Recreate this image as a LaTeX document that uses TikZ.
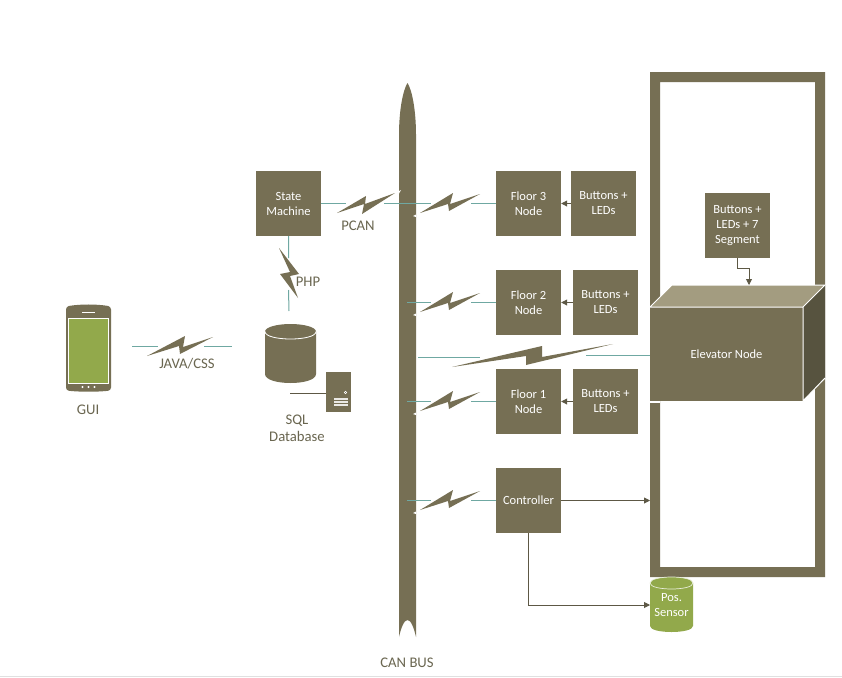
\documentclass[tikz,border=0pt]{standalone}
\usepackage{fontspec}
\setmainfont{Carlito}
\definecolor{olive}{HTML}{766F54}
\definecolor{olivel}{HTML}{A39C80}
\definecolor{olived}{HTML}{57533F}
\definecolor{arrowc}{HTML}{5D5845}
\definecolor{leaf}{HTML}{92A94B}
\definecolor{teal2}{HTML}{6FA8A2}
\definecolor{txt}{HTML}{6A6650}
\usetikzlibrary{arrows.meta}
\tikzset{
  boxn/.style={fill=olive,draw=none,text=white,minimum width=65pt,minimum height=65pt,align=center,inner sep=0pt,font=\fontsize{12.5pt}{15pt}\selectfont},
  lab/.style={text=txt,align=center,inner sep=0pt,font=\fontsize{14.7pt}{17.5pt}\selectfont},
  wire/.style={teal2,line width=1pt},
  flow/.style={arrowc,line width=0.9pt,-{Triangle[length=6pt,width=6pt]}},
  bolt/.style={fill=olive,draw=none}
}
\begin{document}
\begin{tikzpicture}[x=1pt,y=-1pt]
\useasboundingbox (0,0) rectangle (842,677);
\fill[white] (0,0) rectangle (842,677);
\draw[black!12,line width=0.8pt] (0,676) -- (842,676);
% shaft
\fill[olive,even odd rule] (650,72) rectangle (825,577) (660,82) rectangle (815,567);
% CAN bus
\fill[olive] (399,637) -- (399,135) .. controls (399,110) and (403,90) .. (407.5,83) .. controls (412,90) and (416,110) .. (416,135) -- (416,637) .. controls (414,628) and (411,620) .. (407.5,620) .. controls (404,620) and (401,628) .. (399,637) -- cycle;
% boxes
\node[boxn] (sm) at (288.5,203.5) {State\\Machine};
\node[boxn] (f3) at (528.5,203.5) {Floor 3\\Node};
\node[boxn] (b3) at (603.5,203.5) {Buttons +\\LEDs};
\node[boxn] (f2) at (528.5,302.5) {Floor 2\\Node};
\node[boxn] (b2) at (605.5,302.5) {Buttons +\\LEDs};
\node[boxn] (f1) at (528.5,401.5) {Floor 1\\Node};
\node[boxn] (b1) at (605.5,401.5) {Buttons +\\LEDs};
\node[boxn] (ct) at (528.5,500.5) {Controller};
\node[boxn] (b7) at (737.5,225.5) {Buttons +\\LEDs + 7\\Segment};
% elevator
\fill[white] (650,401) rectangle (660,402.5);
\fill[olivel] (650,307) -- (672,285) -- (825,285) -- (803,307) -- cycle;
\fill[olived] (803,307) -- (825,285) -- (825,378) -- (803,401) -- cycle;
\node[boxn,minimum width=153pt,minimum height=94pt] (el) at (726.5,354) {Elevator Node};
\draw[white,line width=1pt] (650,307) -- (672,285) -- (825,285) -- (803,307) -- cycle (650,307) -- (803,307) -- (803,401) -- (825,378);
% phone
\fill[olive,rounded corners=3pt] (66,306.5) .. controls (80,304) and (97,304) .. (111,306.5) -- (111,390.5) .. controls (97,392) and (80,392) .. (66,390.5) -- cycle;
\node[fill=leaf,draw=white,line width=0.7pt,minimum width=40pt,minimum height=65pt,inner sep=0pt] (ph) at (88.5,350.5) {};
\fill[white] (82,312) rectangle (95,313);
\foreach \x in {82.5,88.5,94.5}\fill[white] (\x,387) circle (1.2pt);
\node[lab] (gui) at (88,410) {GUI};
% database
\fill[olive] (265,332) -- (265,374) .. controls (265,386) and (316,386) .. (316,374) -- (316,332) -- cycle;
\fill[olive] (290.5,331.5) ellipse (25.5pt and 7.5pt);
\draw[white,line width=0.8pt] (265,331.5) .. controls (265,341.5) and (316,341.5) .. (316,331.5);
\coordinate (dbt) at (289,311);
\coordinate (dbs) at (290,393);
\node[fill=olive,minimum width=25pt,minimum height=40pt,inner sep=0pt] (srv) at (338.5,392) {};
\draw[white,line width=0.5pt] (345.5,392.5) circle (1.2pt);
\foreach \y in {398,401,404} \fill[white!85!olive] (334,\y) rectangle (348,\y+2);
\draw[arrowc,line width=0.8pt] (srv.west|-dbs) -- (dbs);
\node[lab] (db) at (297,428.5) {SQL\\Database};
% sensor
\fill[leaf] (650,583) -- (650,626) .. controls (650,634) and (693,634) .. (693,626) -- (693,583) -- cycle;
\fill[leaf] (671.5,583) ellipse (21.5pt and 6pt);
\draw[white!80!leaf,line width=0.7pt] (650,583) .. controls (650,591) and (693,591) .. (693,583);
\draw[white!80!leaf,line width=0.7pt] (650,583) .. controls (650,575) and (693,575) .. (693,583);
\node[text=white,align=center,inner sep=0pt,font=\fontsize{12.5pt}{15pt}\selectfont] (ps) at (671.5,605) {Pos.\\Sensor};
\coordinate (pst) at (650,605);
% labels
\node[lab] (cb) at (407,663) {CAN BUS};
\node[lab] (jc) at (187,364) {JAVA/CSS};
\node[lab] (pc) at (358,226) {PCAN};
\node[lab] (ph2) at (308,282) {PHP};
% wires
\coordinate (g1) at (132,346); \coordinate (g2) at (158,346);
\coordinate (g3) at (204,346); \coordinate (g4) at (232,346);
\draw[wire] (g1) -- (g2) (g3) -- (g4);
\coordinate (p1) at (346,203.5); \coordinate (p2) at (384,203.5);
\draw[wire] (sm.east) -- (p1) (p2) -- (431,203.5);
\draw[wire] (f3.west) -- (471,203.5);
\coordinate (v1) at (288.5,258); \coordinate (v2) at (288.5,290);
\draw[wire] (sm.south) -- (v1) (v2) -- (dbt);
\foreach \y/\n in {302.5/f2,401.5/f1,500.5/ct}{
  \draw[wire] (407,\y) -- (431,\y);
  \draw[wire] (\n.west) -- (471,\y);
}
\coordinate (e1) at (418,357); \coordinate (e2) at (480,357);
\coordinate (e3) at (586,355);
\draw[wire] (e1) -- (e2);
\draw[wire] (e3) -- (el.west|-e3);
% bolts
\fill[bolt] (337,213) -- (366,196) -- (365,204) -- (395,193) -- (362,214) -- (364,204) -- cycle;
\fill[white] (397,192) -- (401,190) -- (399,193.5) -- cycle;
\foreach \y in {0,99,198,297}{
 \fill[bolt] (420,{213+\y}) -- (453,{193+\y}) -- (450,{204+\y}) -- (480,{194+\y}) -- (449,{211+\y}) -- (448,{204+\y}) -- cycle;
 \fill[white] (416,{214.5+\y}) -- (413,{216+\y}) -- (416,{217+\y}) -- cycle;
}
\fill[bolt] (279,248) -- (299,274) -- (290,276) -- (298,298) -- (280,274) -- (290,272) -- cycle;
\fill[bolt] (147,356) -- (185,336) -- (183,347) -- (213,337) -- (180,354) -- (179,346) -- cycle;
\fill[bolt] (452,367) -- (542,346) -- (542,357) -- (613,344) -- (526,365) -- (526,356) -- cycle;
% flows
\foreach \a/\b in {b3/f3,b2/f2,b1/f1} \draw[flow] (\a.west) -- (\b.east);
\draw[flow] (ct.east) -- (650,500.5);
\draw[flow] (ct.south) |- (pst);
\draw[flow,line width=0.8pt] (b7.south) -- (737.5,268) -- (749,268) -- (749,285);
\end{tikzpicture}
\end{document}
